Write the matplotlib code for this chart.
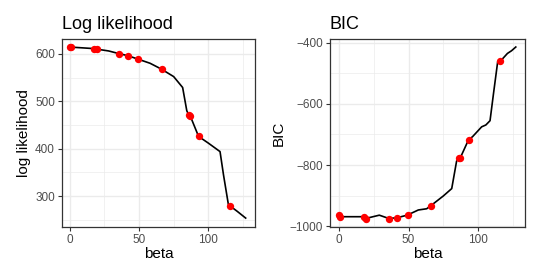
import matplotlib
matplotlib.use("Agg")
import matplotlib.pyplot as plt
from matplotlib.ticker import MultipleLocator

plt.rcParams["font.family"] = ["Liberation Sans", "DejaVu Sans"]

# line path (beta grid)
ll_line_beta = [0, 1, 17, 19, 28, 36, 42, 49, 58, 66, 75, 81.5, 84.5, 86, 87, 93, 100, 108.5, 111, 114.5, 116, 121, 127]
ll_line_val = [615, 614, 611, 610, 606, 600, 596, 589, 580, 568, 552, 529, 480, 471, 469, 426, 412, 394, 345, 283, 279, 268, 254]

bic_line_beta = [0, 1, 17, 19, 29, 36, 42, 49, 57, 63, 66, 75, 81, 84.5, 86, 87, 93, 96, 102.5, 105.5, 108.5, 111, 114, 116, 121, 124, 127]
bic_line_val = [-962, -969, -969, -975, -964, -975, -972, -964, -947, -943, -933, -901, -877, -787, -778, -778, -718, -707, -675, -669, -655, -566, -462, -460, -435, -426, -414]

# highlighted points
pt_beta = [0, 1, 17.8, 19.5, 35.6, 42, 49.5, 66.3, 86, 87, 93.3, 115.6]
ll_pts = [614, 614, 611, 610, 600, 596, 589, 568, 471, 469, 426, 279]
bic_pts = [-962, -969, -969, -975, -975, -972, -964, -933, -778, -778, -718, -460]

fig = plt.figure(figsize=(5.39, 2.79), dpi=100)
ax1 = fig.add_axes([0.115, 0.186, 0.358, 0.674])
ax2 = fig.add_axes([0.612, 0.186, 0.362, 0.674])


def style(ax, major, minor):
    ax.set_facecolor("white")
    ax.xaxis.set_major_locator(MultipleLocator(50))
    ax.xaxis.set_minor_locator(MultipleLocator(25))
    ax.yaxis.set_major_locator(MultipleLocator(major))
    ax.yaxis.set_minor_locator(MultipleLocator(minor))
    ax.grid(which="major", color="#EBEBEB", lw=1.0, zorder=0)
    ax.grid(which="minor", color="#EBEBEB", lw=0.5, zorder=0)
    ax.set_axisbelow(True)
    for s in ax.spines.values():
        s.set_color("#333333")
        s.set_linewidth(0.9)
    ax.tick_params(which="major", length=3, width=0.8, color="#333333",
                   labelsize=8.5, labelcolor="#4D4D4D", pad=2)
    ax.tick_params(which="minor", length=0)


ax1.plot(ll_line_beta, ll_line_val, color="black", lw=1.2, zorder=2)
ax1.scatter(pt_beta, ll_pts, s=28, color="red", zorder=3, linewidths=0)
ax1.set_xlim(-5.6, 133.7)
ax1.set_ylim(235, 631)
style(ax1, 100, 50)
ax1.set_xlabel("beta", fontsize=11, labelpad=1)
ax1.set_ylabel("log likelihood", fontsize=11, labelpad=3)
ax1.set_title("Log likelihood", loc="left", fontsize=13, pad=7)

ax2.plot(bic_line_beta, bic_line_val, color="black", lw=1.2, zorder=2)
ax2.scatter(pt_beta, bic_pts, s=28, color="red", zorder=3, linewidths=0)
ax2.set_xlim(-6.5, 133.6)
ax2.set_ylim(-1003, -388)
style(ax2, 200, 100)
ax2.set_yticklabels([])
ax2.set_yticks([-1000, -800, -600, -400])
ax2.set_yticklabels(["\u22121000", "\u2212800", "\u2212600", "\u2212400"])
ax2.set_xlabel("beta", fontsize=11, labelpad=1)
ax2.set_ylabel("BIC", fontsize=11, labelpad=3)
ax2.set_title("BIC", loc="left", fontsize=13, pad=7)

fig.savefig("out.png", dpi=100)
